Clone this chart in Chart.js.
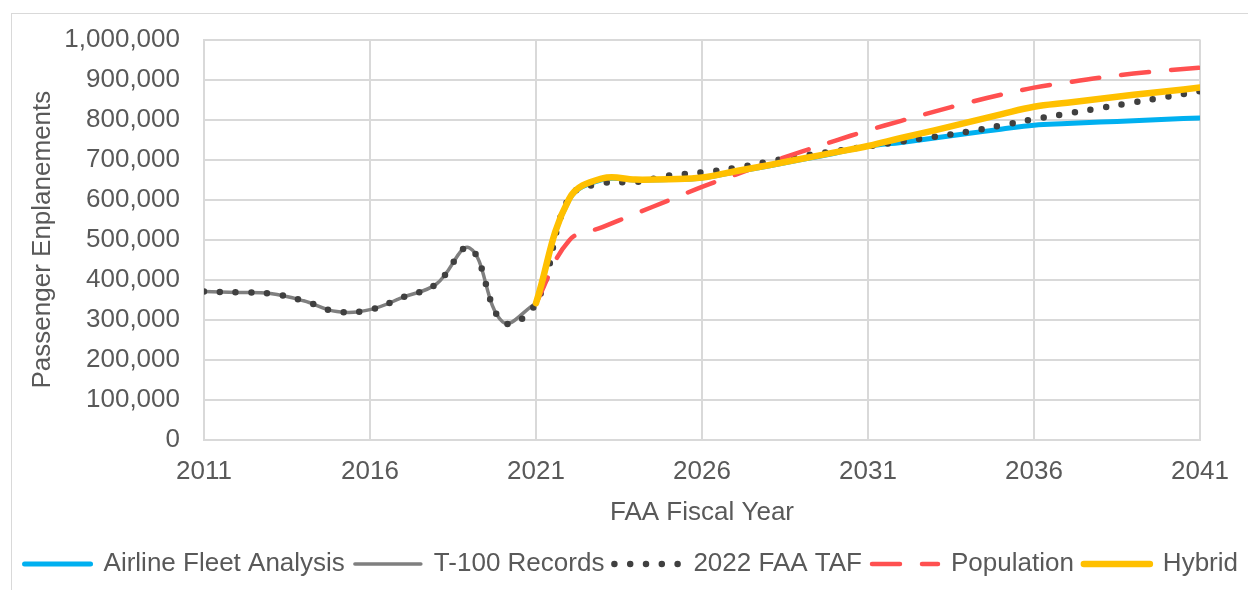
<!DOCTYPE html>
<html>
<head>
<meta charset="utf-8">
<script src="https://cdn.jsdelivr.net/npm/chart.js@4.4.0/dist/chart.umd.min.js"></script>
<style>
  html, body { margin: 0; padding: 0; background: #fff; }
  #wrap { position: relative; width: 1248px; height: 590px; overflow: hidden; }
  #frame { position: absolute; left: 11px; top: 13px; width: 1260px; height: 600px; border: 1.5px solid #d9d9d9; }
  #chart-canvas { position: absolute; left: 0; top: 0; }
</style>
</head>
<body>
<div id="wrap">
  <div id="frame"></div>
  <canvas id="chart-canvas" width="1248" height="590"></canvas>
</div>
<script>
const years = [2011, 2012, 2013, 2014, 2015, 2016, 2017, 2018, 2019, 2020, 2021,
    2022, 2023, 2024, 2025, 2026, 2027, 2028, 2029, 2030, 2031,
    2032, 2033, 2034, 2035, 2036, 2037, 2038, 2039, 2040, 2041];

const fleetValues = [null, null, null, null, null, null, null, null, null, null, 341000,
    600000, 650000, 649000, 650000, 654000, 669000, 684000, 700000, 716000, 733000,
    743000, 754000, 765000, 776000, 786000, 790000, 794000, 797000, 801000, 804000];

const t100Values = [370000, 368000, 365000, 347000, 320000, 325000, 356000, 389000, 479000, 294000, 341000,
    null, null, null, null, null, null, null, null, null, null,
    null, null, null, null, null, null, null, null, null, null];

const tafValues = [370000, 368000, 365000, 347000, 320000, 325000, 356000, 389000, 479000, 294000, 341000,
    605000, 641000, 644000, 660000, 668000, 679000, 695000, 709000, 721000, 733000,
    745000, 757000, 770000, 785000, 801000, 815000, 829000, 843000, 857000, 871000];

const populationValues = [null, null, null, null, null, null, null, null, null, null, 341000,
    498000, 531000, 565000, 598000, 632000, 662000, 692000, 720000, 747000, 773000,
    797000, 820000, 842000, 862000, 880000, 893000, 905000, 915000, 923000, 930000];

const hybridValues = [null, null, null, null, null, null, null, null, null, null, 341000,
    602000, 653000, 650000, 651000, 655000, 671000, 686000, 702000, 718000, 734000,
    754000, 773000, 793000, 813000, 832000, 842000, 852000, 862000, 871000, 880000];

const xTicks = [2011, 2016, 2021, 2026, 2031, 2036, 2041];

const textColor = '#595959';
const gridColor = '#d9d9d9';
const fontFamily = '"Liberation Sans", Arial, sans-serif';
const fontSize = 26;

function toPoints(values) {
    return years.map((y, i) => ({ x: y, y: values[i] }));
}

const chartCanvas = document.getElementById('chart-canvas');

new Chart(chartCanvas, {
    type: 'line',
    data: {
        datasets: [{
            label: 'Airline Fleet Analysis',
            data: toPoints(fleetValues),
            borderColor: '#00b0f0',
            borderWidth: 5,
            borderCapStyle: 'round',
            order: 4
        }, {
            label: 'T-100 Records',
            data: toPoints(t100Values),
            borderColor: '#7f7f7f',
            borderWidth: 3.5,
            borderCapStyle: 'round',
            order: 5
        }, {
            label: '2022 FAA TAF',
            data: toPoints(tafValues),
            borderColor: '#404040',
            borderWidth: 6.5,
            borderDash: [0, 15.8],
            borderCapStyle: 'round',
            order: 3
        }, {
            label: 'Population',
            data: toPoints(populationValues),
            borderColor: '#ff5050',
            borderWidth: 4.5,
            borderDash: [28, 22],
            borderCapStyle: 'round',
            order: 2
        }, {
            label: 'Hybrid',
            data: toPoints(hybridValues),
            borderColor: '#ffc000',
            borderWidth: 6.5,
            borderCapStyle: 'round',
            order: 1
        }]
    },
    options: {
        responsive: false,
        animation: false,
        spanGaps: false,
        elements: {
            point: { radius: 0, hoverRadius: 0 },
            line: { tension: 0.4, fill: false, borderJoinStyle: 'round' }
        },
        layout: { padding: { top: 34, right: 0, bottom: 3, left: 0 } },
        plugins: {
            tooltip: { enabled: false },
            legend: {
                position: 'bottom',
                align: 'end',
                labels: {
                    usePointStyle: true,
                    pointStyleWidth: 66,
                    boxHeight: 6,
                    padding: 10,
                    color: textColor,
                    font: { family: fontFamily, size: fontSize },
                    generateLabels(chart) {
                        return chart.data.datasets.map((ds, i) => ({
                            text: ds.label,
                            datasetIndex: i,
                            pointStyle: 'line',
                            strokeStyle: ds.borderColor,
                            fillStyle: ds.borderColor,
                            lineWidth: ds.borderWidth,
                            lineDash: ds.borderDash || [],
                            lineCap: ds.borderCapStyle,
                            fontColor: textColor,
                            hidden: false
                        }));
                    }
                }
            }
        },
        scales: {
            x: {
                type: 'linear',
                min: 2011,
                max: 2041,
                afterBuildTicks(scale) {
                    scale.ticks = xTicks.map(v => ({ value: v }));
                },
                ticks: {
                    color: textColor,
                    font: { family: fontFamily, size: fontSize },
                    padding: 17,
                    maxRotation: 0,
                    callback: v => String(v)
                },
                grid: { color: gridColor, lineWidth: 2, drawTicks: false },
                border: { color: gridColor, width: 2 },
                title: {
                    display: true,
                    text: 'FAA Fiscal Year',
                    color: textColor,
                    font: { family: fontFamily, size: fontSize },
                    padding: { top: -8, bottom: 13 }
                }
            },
            y: {
                min: 0,
                max: 1000000,
                afterFit(scale) { scale.width = 204; },
                ticks: {
                    stepSize: 100000,
                    color: textColor,
                    font: { family: fontFamily, size: fontSize },
                    padding: 24,
                    callback: v => v.toLocaleString('en-US')
                },
                grid: { color: gridColor, lineWidth: 2, drawTicks: false },
                border: { color: gridColor, width: 2 },
                title: {
                    display: true,
                    text: 'Passenger Enplanements',
                    color: textColor,
                    font: { family: fontFamily, size: fontSize },
                    padding: { top: 27, bottom: 0 }
                }
            },
            gutter: {
                type: 'linear',
                position: 'right',
                display: true,
                afterFit(scale) { scale.width = 48; },
                ticks: { display: false },
                grid: { display: false, drawTicks: false },
                border: { display: false }
            }
        }
    }
});
</script>
</body>
</html>
